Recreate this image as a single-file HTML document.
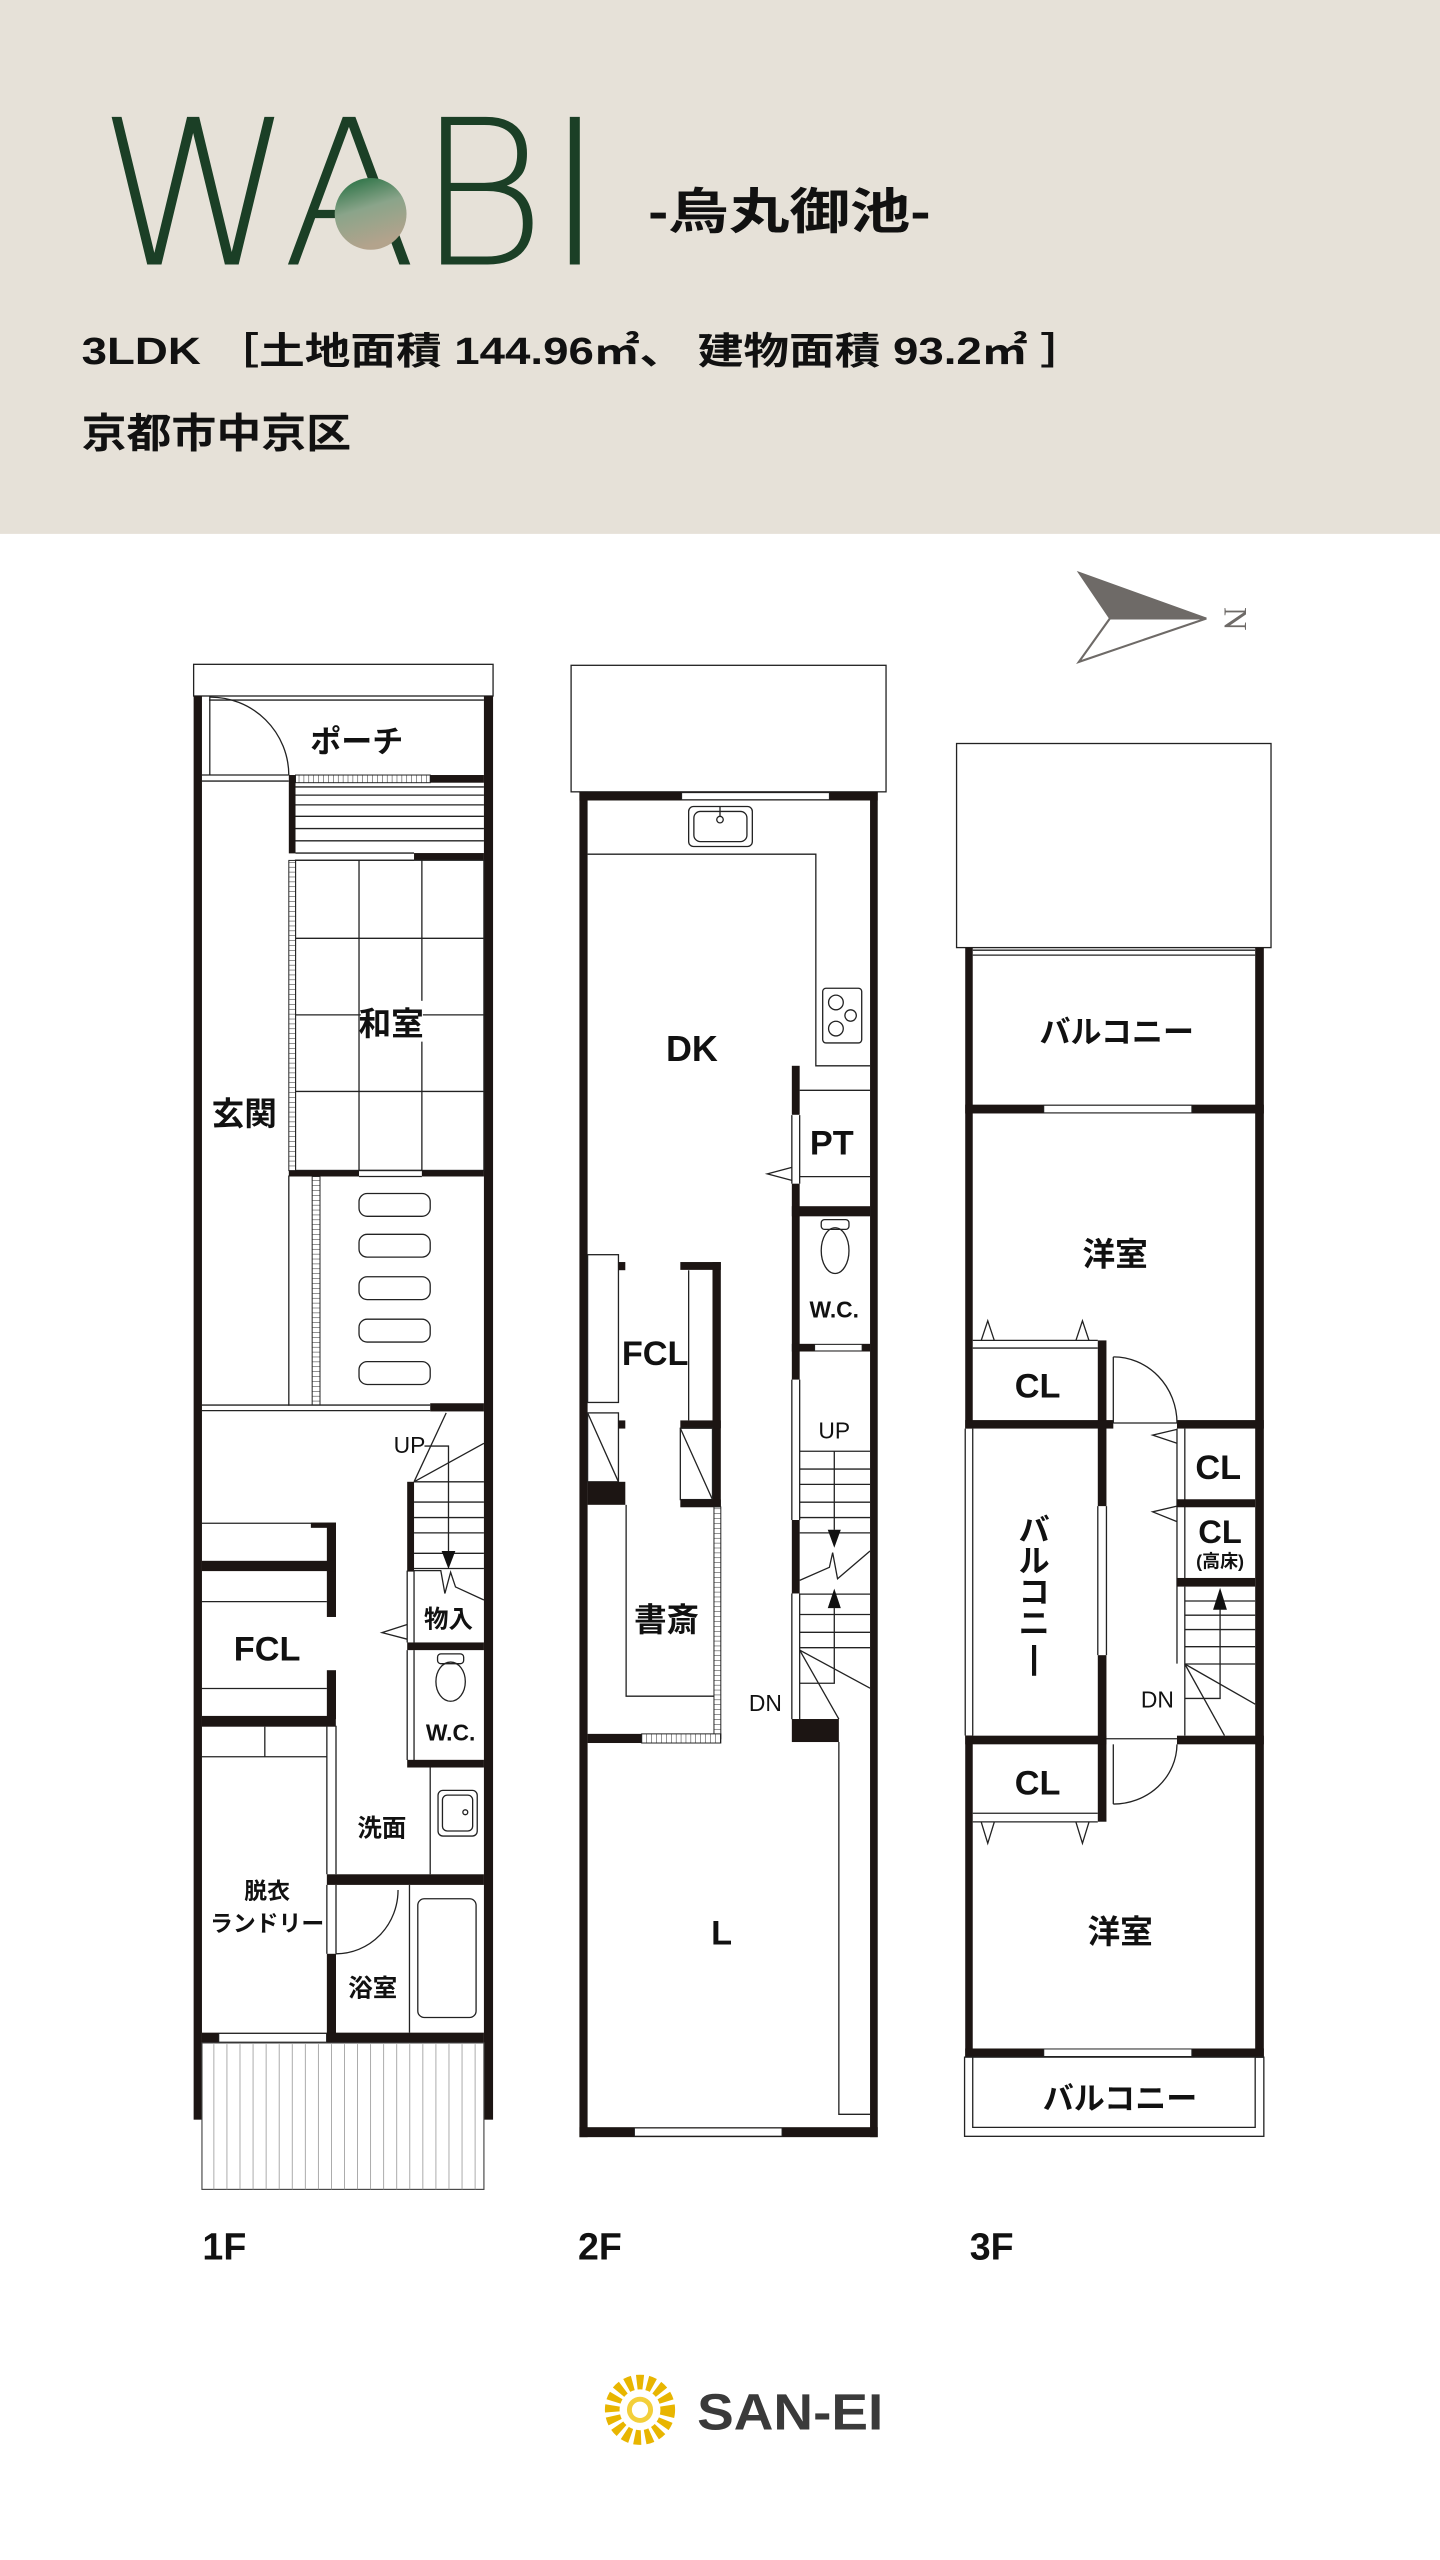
<!DOCTYPE html>
<html><head><meta charset="utf-8"><style>
html,body{margin:0;padding:0;background:#fff}
svg{display:block}
.jp{font-family:"Liberation Sans","Noto Sans CJK JP",sans-serif;font-weight:700;fill:#111}
.t{stroke:#222;stroke-width:.8;fill:none}
.tw{stroke:#222;stroke-width:.8;fill:#fff}
.w{fill:#1c1513}
</style></head><body>
<svg width="1440" height="2560" viewBox="0 0 882 1568" xmlns="http://www.w3.org/2000/svg">
<defs>
<linearGradient id="g" x1="0" y1="0" x2="0.3" y2="1"><stop offset="0" stop-color="#1d6b3b"/><stop offset="0.5" stop-color="#8aa48a"/><stop offset="1" stop-color="#b3a38c"/></linearGradient>
<pattern id="h" width="6" height="3" patternUnits="userSpaceOnUse"><rect width="6" height="3" fill="#fff"/><line x1="0" y1="0" x2="6" y2="0" stroke="#222" stroke-width=".6"/></pattern>
<pattern id="hv" width="3" height="6" patternUnits="userSpaceOnUse"><rect width="3" height="6" fill="#fff"/><line x1="0" y1="0" x2="0" y2="6" stroke="#222" stroke-width=".6"/></pattern>
</defs>
<!-- header -->
<rect x="0" y="0" width="882" height="327" fill="#e6e1d8"/>
<text x="60" y="162" font-family="DejaVu Sans,Liberation Sans,sans-serif" font-weight="200" font-size="124" fill="#1b3f26" textLength="310" lengthAdjust="spacingAndGlyphs">WABI</text>
<circle cx="227" cy="131" r="22" fill="url(#g)"/>
<text x="397" y="140" class="jp" font-size="30" textLength="173" lengthAdjust="spacingAndGlyphs">-烏丸御池-</text>
<text x="50" y="223" class="jp" font-size="23" textLength="615" lengthAdjust="spacingAndGlyphs">3LDK ［土地面積 144.96㎡、 建物面積 93.2㎡ ］</text>
<text x="50" y="274" class="jp" font-size="25" textLength="165" lengthAdjust="spacingAndGlyphs">京都市中京区</text>
<!-- compass -->
<polygon points="660.8,350.7 738.9,378.8 679.8,378.8" fill="#6e6a67" stroke="#6e6a67" stroke-width="1"/>
<polygon points="679.8,378.8 738.9,378.8 660.8,405.4" fill="#fff" stroke="#6e6a67" stroke-width="1.3"/>
<text x="0" y="0" transform="translate(750,379) rotate(90)" text-anchor="middle" font-family="Liberation Serif,serif" font-size="20" fill="#6e6a67">N</text>

<!-- ===== 1F ===== -->
<rect x="118.6" y="406.9" width="183.4" height="19.4" class="tw"/>
<rect x="118.6" y="426.3" width="5.1" height="872" class="w"/>
<rect x="296.4" y="426.3" width="5.6" height="872" class="w"/>
<line x1="128" y1="428.8" x2="296.4" y2="428.8" class="t"/>
<line x1="128.5" y1="426.3" x2="128.5" y2="475" class="t"/>
<path d="M128.5,427 A48,48 0 0 1 176.9,474.7" class="t"/>
<line x1="123.7" y1="474.7" x2="176.9" y2="474.7" class="t"/><line x1="123.7" y1="478.4" x2="176.9" y2="478.4" class="t"/>
<rect x="176.9" y="474.7" width="4.1" height="48" class="w"/>
<rect x="181" y="474.7" width="82.5" height="4.7" fill="url(#hv)" stroke="#222" stroke-width=".6"/>
<rect x="263.5" y="474.7" width="32.9" height="4.7" class="w"/>
<g class="t"><line x1="181" y1="482" x2="296.4" y2="482"/><line x1="181" y1="487" x2="296.4" y2="487"/><line x1="181" y1="493" x2="296.4" y2="493"/><line x1="181" y1="500" x2="296.4" y2="500"/><line x1="181" y1="507.5" x2="296.4" y2="507.5"/><line x1="181" y1="515" x2="296.4" y2="515"/></g>
<line x1="181" y1="522.5" x2="253.6" y2="522.5" class="t"/><line x1="181" y1="526.9" x2="253.6" y2="526.9" class="t"/>
<rect x="253.6" y="522.5" width="42.8" height="4.4" class="w"/>
<rect x="181" y="526.9" width="115.4" height="190" class="t"/>
<g class="t"><line x1="219.9" y1="526.9" x2="219.9" y2="716.9"/><line x1="258.4" y1="526.9" x2="258.4" y2="716.9"/><line x1="181" y1="574.7" x2="296.4" y2="574.7"/><line x1="181" y1="621.6" x2="296.4" y2="621.6"/><line x1="181" y1="668.5" x2="296.4" y2="668.5"/></g>
<rect x="176.9" y="527" width="4.1" height="190" fill="url(#h)" stroke="#222" stroke-width=".6"/>
<rect x="176.9" y="716.9" width="43" height="3.7" class="w"/><rect x="258.4" y="716.9" width="38" height="3.7" class="w"/>
<line x1="219.9" y1="716.9" x2="258.4" y2="716.9" class="t"/><line x1="219.9" y1="720.6" x2="258.4" y2="720.6" class="t"/>
<rect x="221" y="613" width="38" height="25" fill="#fff"/>
<text x="239.6" y="634" class="jp" font-size="20" text-anchor="middle">和室</text>
<line x1="176.9" y1="720" x2="176.9" y2="861" class="t"/>
<rect x="191.2" y="720.6" width="4.8" height="140" fill="url(#h)" stroke="#222" stroke-width=".6"/>
<g class="t"><rect x="219.9" y="731" width="43.6" height="14" rx="5"/><rect x="219.9" y="756" width="43.6" height="14" rx="5"/><rect x="219.9" y="782" width="43.6" height="14" rx="5"/><rect x="219.9" y="808" width="43.6" height="14" rx="5"/><rect x="219.9" y="834" width="43.6" height="14" rx="5"/></g>
<text x="149.6" y="689" class="jp" font-size="20" text-anchor="middle">玄関</text>
<line x1="123.7" y1="860.6" x2="263.5" y2="860.6" class="t"/><line x1="123.7" y1="864" x2="263.5" y2="864" class="t"/>
<rect x="263.5" y="859.5" width="32.9" height="5" class="w"/>
<!-- 1F stairs -->
<g class="t"><line x1="253.6" y1="907.6" x2="296.4" y2="907.6"/><line x1="253.6" y1="920" x2="296.4" y2="920"/><line x1="253.6" y1="929.5" x2="296.4" y2="929.5"/><line x1="253.6" y1="938.9" x2="296.4" y2="938.9"/><line x1="253.6" y1="951.4" x2="296.4" y2="951.4"/><line x1="253.6" y1="960.7" x2="296.4" y2="960.7"/>
<line x1="273.3" y1="865.4" x2="253.6" y2="907.6"/><line x1="253.6" y1="907.6" x2="296.4" y2="884"/>
<polyline points="260,885.7 274.7,885.7 274.7,950"/>
<polyline points="253.6,962 270,962 272.5,976 276,963 279,972 296.4,980"/></g>
<polygon points="270.5,950 278.9,950 274.7,961" fill="#111"/>
<rect x="249.4" y="907.6" width="4.2" height="55" class="w"/>
<text x="250.8" y="890" font-family="Liberation Sans,sans-serif" font-size="14" fill="#111" text-anchor="middle">UP</text>
<line x1="249.4" y1="962" x2="249.4" y2="1006" class="t"/><line x1="253.6" y1="962" x2="253.6" y2="1006" class="t"/>
<polyline points="249.4,995 234,1000 249.4,1004" class="t"/>
<text x="274.7" y="997" class="jp" font-size="15" text-anchor="middle">物入</text>
<rect x="249.4" y="1006" width="47" height="4.7" class="w"/>
<line x1="249.4" y1="1010.7" x2="249.4" y2="1078" class="t"/><line x1="253.6" y1="1010.7" x2="253.6" y2="1078" class="t"/>
<rect x="268" y="1013" width="16" height="6" rx="2" class="t"/><ellipse cx="276" cy="1030" rx="9" ry="12" class="t"/>
<text x="276" y="1066" class="jp" font-size="14" text-anchor="middle">W.C.</text>
<rect x="249.4" y="1077.9" width="47" height="4.7" class="w"/>
<line x1="263.5" y1="1082.6" x2="263.5" y2="1148" class="t"/>
<rect x="268.3" y="1096.6" width="24" height="28" rx="3" class="t"/><rect x="271" y="1099.5" width="18.5" height="22" rx="3" class="t"/><circle cx="285" cy="1110" r="1.5" class="t"/>
<text x="233.9" y="1125" class="jp" font-size="15" text-anchor="middle">洗面</text>
<rect x="200.2" y="1148" width="96.2" height="6.5" class="w"/>
<path d="M243.8,1157.6 A38,39 0 0 1 205.8,1196.7" class="t"/>
<line x1="205.8" y1="1154.5" x2="205.8" y2="1196.7" class="t"/><line x1="200.2" y1="1154.5" x2="200.2" y2="1196.7" class="t"/>
<rect x="200.2" y="1196.7" width="5.6" height="50" class="w"/>
<line x1="250.8" y1="1154.5" x2="250.8" y2="1245" class="t"/>
<rect x="255.9" y="1163" width="35.7" height="72.7" rx="4" class="t"/>
<text x="228.3" y="1223" class="jp" font-size="15" text-anchor="middle">浴室</text>
<!-- FCL 1F -->
<line x1="123.7" y1="933" x2="200.2" y2="933" class="t"/>
<rect x="190.4" y="932.6" width="15.4" height="3.2" class="w"/>
<rect x="200.2" y="932.6" width="5.6" height="57.8" class="w"/>
<rect x="123.7" y="956" width="82" height="6.3" class="w"/>
<line x1="123.7" y1="981" x2="200.2" y2="981" class="t"/>
<rect x="200.2" y="1023" width="5.6" height="30" class="w"/>
<line x1="123.7" y1="1034.2" x2="200.2" y2="1034.2" class="t"/>
<rect x="123.7" y="1051" width="82" height="6.6" class="w"/>
<text x="163.6" y="1017" class="jp" font-size="21" text-anchor="middle">FCL</text>
<line x1="123.7" y1="1076" x2="200.2" y2="1076" class="t"/><line x1="162.2" y1="1057.6" x2="162.2" y2="1076" class="t"/>
<line x1="200.2" y1="1057" x2="200.2" y2="1148" class="t"/><line x1="205.8" y1="1057" x2="205.8" y2="1148" class="t"/>
<text x="163.6" y="1163" class="jp" font-size="14" text-anchor="middle">脱衣</text>
<text x="163.6" y="1183" class="jp" font-size="14" text-anchor="middle">ランドリー</text>
<rect x="123.7" y="1245" width="172.7" height="6.3" class="w"/>
<rect x="134" y="1245.5" width="66" height="5.3" fill="#fff" stroke="#222" stroke-width=".6"/>
<rect x="123.7" y="1251.3" width="172.7" height="89.7" fill="#fff" stroke="#444" stroke-width=".7"/>
<g stroke="#999" stroke-width=".5">
<line x1="131" y1="1252" x2="131" y2="1341"/><line x1="139" y1="1252" x2="139" y2="1341"/><line x1="147" y1="1252" x2="147" y2="1341"/><line x1="155" y1="1252" x2="155" y2="1341"/><line x1="163" y1="1252" x2="163" y2="1341"/><line x1="171" y1="1252" x2="171" y2="1341"/><line x1="179" y1="1252" x2="179" y2="1341"/><line x1="187" y1="1252" x2="187" y2="1341"/><line x1="195" y1="1252" x2="195" y2="1341"/><line x1="203" y1="1252" x2="203" y2="1341"/><line x1="211" y1="1252" x2="211" y2="1341"/><line x1="219" y1="1252" x2="219" y2="1341"/><line x1="227" y1="1252" x2="227" y2="1341"/><line x1="235" y1="1252" x2="235" y2="1341"/><line x1="243" y1="1252" x2="243" y2="1341"/><line x1="251" y1="1252" x2="251" y2="1341"/><line x1="259" y1="1252" x2="259" y2="1341"/><line x1="267" y1="1252" x2="267" y2="1341"/><line x1="275" y1="1252" x2="275" y2="1341"/><line x1="283" y1="1252" x2="283" y2="1341"/><line x1="291" y1="1252" x2="291" y2="1341"/></g>
<text x="218.5" y="461" class="jp" font-size="19" text-anchor="middle">ポーチ</text>

<!-- ===== 2F ===== -->
<rect x="349.8" y="407.5" width="192.9" height="77.5" class="tw"/>
<rect x="354.9" y="485" width="5" height="824" class="w"/>
<rect x="532.9" y="485" width="4.7" height="824" class="w"/>
<rect x="354.9" y="485" width="182.7" height="5.3" class="w"/>
<rect x="417.5" y="485.5" width="90.5" height="4.3" fill="#fff" stroke="#222" stroke-width=".6"/>
<rect x="421.8" y="494" width="39" height="24.5" rx="3" class="t"/><rect x="425" y="497" width="32.5" height="18.5" rx="4" class="t"/><circle cx="441" cy="502" r="2" class="t"/><line x1="441" y1="494" x2="441" y2="500" class="t"/>
<path d="M359.9,523.2 H499.7 V652.8 H532.9" class="t"/>
<rect x="503.9" y="605.3" width="23.9" height="33.5" rx="2" class="t"/>
<g class="t"><circle cx="512" cy="614" r="4.5"/><circle cx="512" cy="630" r="4.5"/><circle cx="521" cy="622" r="3.5"/></g>
<text x="423.8" y="650" class="jp" font-size="22" text-anchor="middle">DK</text>
<rect x="485" y="652.8" width="4.8" height="30" class="w"/>
<line x1="485" y1="683" x2="485" y2="725" class="t"/><line x1="489.8" y1="683" x2="489.8" y2="725" class="t"/>
<rect x="485" y="725" width="4.8" height="120" class="w"/>
<line x1="485" y1="845" x2="485" y2="931" class="t"/><line x1="489.8" y1="845" x2="489.8" y2="931" class="t"/>
<rect x="485" y="931" width="4.8" height="45" class="w"/>
<line x1="485" y1="976" x2="485" y2="1053" class="t"/><line x1="489.8" y1="976" x2="489.8" y2="1053" class="t"/>
<polyline points="485,715 470,719 485,723" class="t"/>
<line x1="489.8" y1="667.8" x2="532.9" y2="667.8" class="t"/><line x1="489.8" y1="720.7" x2="532.9" y2="720.7" class="t"/>
<text x="509.5" y="707" class="jp" font-size="21" text-anchor="middle">PT</text>
<rect x="485" y="738.8" width="48" height="6.2" class="w"/>
<rect x="503" y="747" width="17" height="6" rx="2" class="t"/><ellipse cx="511.5" cy="766" rx="8.5" ry="14" class="t"/>
<text x="511" y="807" class="jp" font-size="14" text-anchor="middle">W.C.</text>
<rect x="485" y="823.1" width="48" height="4.7" class="w"/>
<rect x="499" y="823.5" width="29" height="3.9" fill="#fff" stroke="#222" stroke-width=".5"/>
<!-- 2F stairs -->
<g class="t"><line x1="489.8" y1="888.9" x2="532.9" y2="888.9"/><line x1="489.8" y1="899.8" x2="532.9" y2="899.8"/><line x1="489.8" y1="909.2" x2="532.9" y2="909.2"/><line x1="489.8" y1="920.1" x2="532.9" y2="920.1"/><line x1="489.8" y1="929.5" x2="532.9" y2="929.5"/><line x1="489.8" y1="938.9" x2="532.9" y2="938.9"/>
<line x1="489.8" y1="976.4" x2="532.9" y2="976.4"/><line x1="489.8" y1="988.9" x2="532.9" y2="988.9"/><line x1="489.8" y1="999.8" x2="532.9" y2="999.8"/><line x1="489.8" y1="1009.2" x2="532.9" y2="1009.2"/>
<line x1="511" y1="888.9" x2="511" y2="937"/>
<polyline points="489.8,968 508,960 510,951 513,967 532.9,950"/>
<polyline points="489.8,1031 511,1031 511,985"/>
<line x1="489.8" y1="1010.7" x2="513.8" y2="1052.9"/><line x1="489.8" y1="1010.7" x2="532.9" y2="1034"/></g>
<polygon points="507,937 515,937 511,948" fill="#111"/><polygon points="507,985 515,985 511,973" fill="#111"/>
<text x="511" y="881" font-family="Liberation Sans,sans-serif" font-size="14" fill="#111" text-anchor="middle">UP</text>
<text x="468.8" y="1048" font-family="Liberation Sans,sans-serif" font-size="14" fill="#111" text-anchor="middle">DN</text>
<rect x="485" y="1052.9" width="28.8" height="14.1" class="w"/>
<path d="M513.8,1067 V1295 H532.9" class="t"/>
<!-- FCL 2F -->
<rect x="359.9" y="768.5" width="18.9" height="90.5" class="t"/>
<rect x="359.9" y="865.4" width="18.9" height="42.2" class="t"/><line x1="359.9" y1="865.4" x2="378.8" y2="907.6" class="t"/>
<rect x="378.8" y="773" width="4.2" height="5" class="w"/><rect x="378.8" y="870" width="4.2" height="5" class="w"/>
<rect x="359.9" y="907.6" width="23.1" height="14.1" class="w"/>
<rect x="436.4" y="773" width="5.1" height="150" class="w"/>
<rect x="416.7" y="773" width="24.8" height="4.8" class="w"/>
<line x1="421.8" y1="778" x2="421.8" y2="870" class="t"/>
<rect x="416.7" y="870" width="24.8" height="4.8" class="w"/>
<rect x="416.7" y="874.8" width="19.7" height="43.7" class="t"/><line x1="416.7" y1="874.8" x2="436.4" y2="918.5" class="t"/>
<rect x="416.7" y="918.5" width="24.8" height="4.7" class="w"/>
<text x="401.3" y="836" class="jp" font-size="21" text-anchor="middle">FCL</text>
<path d="M383.5,921.7 V1038.9 H437.3" class="t"/>
<rect x="437.3" y="923" width="4.2" height="142" fill="url(#h)" stroke="#222" stroke-width=".6"/>
<text x="408.3" y="999" class="jp" font-size="20" text-anchor="middle">書斎</text>
<rect x="359.9" y="1062" width="33.1" height="5.6" class="w"/>
<rect x="393" y="1062" width="48.5" height="5.6" fill="url(#hv)" stroke="#222" stroke-width=".6"/>
<text x="442" y="1191" class="jp" font-size="21" text-anchor="middle">L</text>
<rect x="354.9" y="1302.9" width="182.7" height="6.1" class="w"/>
<rect x="388.6" y="1303.4" width="90.4" height="5" fill="#fff" stroke="#222" stroke-width=".6"/>

<!-- ===== 3F ===== -->
<rect x="585.9" y="455.4" width="192.6" height="125" class="tw"/>
<rect x="591.2" y="580.4" width="4.6" height="294.6" class="w"/>
<line x1="591.2" y1="875" x2="591.2" y2="1063" class="t"/><line x1="595.8" y1="875" x2="595.8" y2="1063" class="t"/>
<rect x="591.2" y="1063" width="4.6" height="197" class="w"/>
<rect x="768.8" y="580.4" width="5.3" height="680" class="w"/>
<line x1="595.8" y1="582" x2="768.8" y2="582" class="t"/><line x1="595.8" y1="585" x2="768.8" y2="585" class="t"/>
<text x="684" y="639" class="jp" font-size="19" text-anchor="middle">バルコニー</text>
<rect x="591.2" y="676.6" width="182.9" height="5.4" class="w"/>
<rect x="639.3" y="677" width="90.7" height="4.6" fill="#fff" stroke="#222" stroke-width=".6"/>
<text x="683" y="775" class="jp" font-size="20" text-anchor="middle">洋室</text>
<line x1="595.8" y1="821" x2="672.4" y2="821" class="t"/><line x1="595.8" y1="825.7" x2="672.4" y2="825.7" class="t"/>
<polyline points="601,821 605,809 609,821" class="t"/><polyline points="659,821 663,809 667,821" class="t"/>
<rect x="672.4" y="821" width="5.3" height="101.5" class="w"/>
<text x="635.5" y="856" class="jp" font-size="21" text-anchor="middle">CL</text>
<rect x="591.2" y="869.8" width="90.7" height="5.2" class="w"/>
<rect x="720.9" y="869.8" width="53.2" height="5.2" class="w"/>
<line x1="681.9" y1="871.6" x2="720.9" y2="871.6" class="t"/>
<path d="M681.9,831.1 A39,40.5 0 0 1 720.9,871.6" class="t"/><line x1="681.9" y1="831.1" x2="681.9" y2="871.6" class="t"/>
<line x1="672.4" y1="922.5" x2="672.4" y2="1013.8" class="t"/><line x1="677.7" y1="922.5" x2="677.7" y2="1013.8" class="t"/>
<rect x="672.4" y="1013.8" width="5.3" height="102" class="w"/>
<text class="jp" font-size="19" text-anchor="middle"><tspan x="633.4" y="944">バ</tspan><tspan x="633.4" y="963">ル</tspan><tspan x="633.4" y="982">コ</tspan><tspan x="633.4" y="1001">ニ</tspan><tspan x="633.4" y="1022" font-size="20">|</tspan></text>
<polyline points="720.9,875.5 706,879 720.9,884" class="t"/><polyline points="720.9,922.5 706,926 720.9,932" class="t"/>
<line x1="720.9" y1="875" x2="720.9" y2="1019" class="t"/><line x1="725.7" y1="875" x2="725.7" y2="966.5" class="t"/>
<rect x="720.9" y="918.3" width="47.9" height="4.9" class="w"/>
<rect x="720.9" y="966.5" width="47.9" height="5.3" class="w"/>
<text x="746.2" y="906" class="jp" font-size="21" text-anchor="middle">CL</text>
<text x="747.3" y="945" class="jp" font-size="20" text-anchor="middle">CL</text>
<text x="747.3" y="960" class="jp" font-size="11" text-anchor="middle">(高床)</text>
<g class="t"><line x1="725.7" y1="980.6" x2="768.8" y2="980.6"/><line x1="725.7" y1="989.3" x2="768.8" y2="989.3"/><line x1="725.7" y1="998.1" x2="768.8" y2="998.1"/><line x1="725.7" y1="1008.6" x2="768.8" y2="1008.6"/><line x1="725.7" y1="1019.2" x2="768.8" y2="1019.2"/>
<line x1="725.7" y1="971.8" x2="725.7" y2="1063"/>
<polyline points="725.7,1040.3 747.3,1040.3 747.3,985"/>
<line x1="725.7" y1="1019.2" x2="768.8" y2="1043.8"/><line x1="725.7" y1="1019.2" x2="750" y2="1063"/></g>
<polygon points="743,986 751.5,986 747.3,972.5" fill="#111"/>
<text x="708.9" y="1046" font-family="Liberation Sans,sans-serif" font-size="14" fill="#111" text-anchor="middle">DN</text>
<rect x="591.2" y="1063.1" width="86.5" height="5.3" class="w"/>
<rect x="720.9" y="1063.1" width="53.2" height="5.3" class="w"/>
<line x1="677.7" y1="1065" x2="720.9" y2="1065" class="t"/>
<path d="M720.9,1068.4 A39,37 0 0 1 681.9,1105" class="t"/><line x1="681.9" y1="1068.4" x2="681.9" y2="1105" class="t"/>
<text x="635.5" y="1099" class="jp" font-size="21" text-anchor="middle">CL</text>
<line x1="595.8" y1="1110.6" x2="672.4" y2="1110.6" class="t"/><line x1="595.8" y1="1115.9" x2="672.4" y2="1115.9" class="t"/>
<polyline points="601,1116 605,1129 609,1116" class="t"/><polyline points="659,1116 663,1129 667,1116" class="t"/>
<text x="686.1" y="1190" class="jp" font-size="20" text-anchor="middle">洋室</text>
<rect x="591.2" y="1254.7" width="182.9" height="5.3" class="w"/>
<rect x="639.3" y="1255" width="90.7" height="4.6" fill="#fff" stroke="#222" stroke-width=".6"/>
<rect x="590.8" y="1260" width="183.3" height="48.5" class="t"/>
<path d="M595.8,1260 V1303 H768.8 V1260" class="t"/>
<text x="686" y="1292" class="jp" font-size="19" text-anchor="middle">バルコニー</text>

<!-- floor labels -->
<text x="124" y="1384" class="jp" font-size="23">1F</text>
<text x="354" y="1384" class="jp" font-size="23">2F</text>
<text x="594" y="1384" class="jp" font-size="23">3F</text>
<!-- logo -->
<circle cx="392" cy="1476" r="17" fill="none" stroke="#e8b500" stroke-width="9" stroke-dasharray="4 2.5"/>
<circle cx="392" cy="1476" r="8" fill="#f3cf3a"/>
<circle cx="392" cy="1476" r="5" fill="#fff"/>
<text x="427" y="1488" font-family="Liberation Sans,sans-serif" font-weight="700" font-size="31" fill="#3a3a3a" textLength="114" lengthAdjust="spacingAndGlyphs">SAN-EI</text>
</svg>
</body></html>
